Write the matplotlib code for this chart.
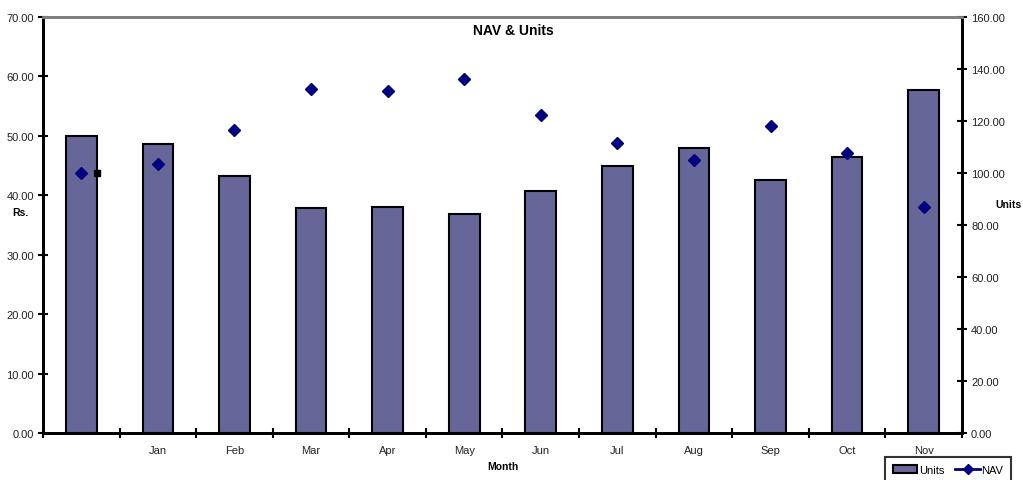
import matplotlib
matplotlib.use("Agg")
import matplotlib.pyplot as plt
import numpy as np
from matplotlib.ticker import FormatStrFormatter, FixedLocator
from matplotlib.lines import Line2D
from matplotlib.patches import Patch

plt.rcParams['font.family'] = ['Liberation Sans', 'DejaVu Sans']

months = ["", "Jan", "Feb", "Mar", "Apr", "May", "Jun", "Jul", "Aug", "Sep", "Oct", "Nov"]
units = [49.9, 48.6, 43.2, 37.8, 38.1, 36.8, 40.8, 44.9, 47.9, 42.5, 46.4, 57.7]
nav = [100.0, 103.3, 116.4, 132.2, 131.5, 136.1, 122.2, 111.4, 104.9, 118.0, 107.6, 87.1]

bar_color = "#666699"
nav_color = "#000080"
txt_color = "#222222"

fig = plt.figure(figsize=(10.23, 4.81), dpi=100)
ax = fig.add_axes([43/1023, 1-434/481, (962-43)/1023, (434-18)/481])
ax2 = ax.twinx()

x = np.arange(len(months))
bw = 0.4
ax.bar(x, units, width=bw, color=bar_color, edgecolor="black", linewidth=1.5, zorder=2)
ax2.plot(x, nav, linestyle="none", marker="D", markersize=6, color=nav_color, zorder=3)
ax2.plot([x[0] + bw/2], [nav[0]], linestyle="none", marker="s", markersize=4, color="black", zorder=3)

ax.set_xlim(-0.5, len(months) - 0.5)
ax.set_ylim(0, 70)
ax2.set_ylim(0, 160)
ax.set_yticks(np.arange(0, 71, 10))
ax2.set_yticks(np.arange(0, 161, 20))
ax.yaxis.set_major_formatter(FormatStrFormatter("%.2f"))
ax2.yaxis.set_major_formatter(FormatStrFormatter("%.2f"))

ax.xaxis.set_major_locator(FixedLocator(np.arange(-0.5, len(months), 1.0)))
ax.xaxis.set_major_formatter(plt.NullFormatter())
ax.xaxis.set_minor_locator(FixedLocator(x))
ax.set_xticklabels(months, minor=True)
ax.tick_params(axis="x", which="minor", length=0, pad=9, labelsize=8, labelcolor=txt_color)
ax.tick_params(axis="x", which="major", direction="inout", length=7, width=1.5)
ax.tick_params(axis="y", direction="inout", length=7, width=1.5, labelsize=8, pad=3, labelcolor=txt_color)
ax2.tick_params(axis="y", direction="inout", length=7, width=1.5, labelsize=8, pad=3, labelcolor=txt_color)

for a in (ax, ax2):
    a.spines["top"].set_color("#808080")
    a.spines["top"].set_linewidth(2)
    for s in ("left", "right", "bottom"):
        a.spines[s].set_linewidth(2)
        a.spines[s].set_color("black")

fig.text(513/1023, 1-31/481, "NAV & Units", ha="center", va="center", fontsize=10, fontweight="bold")
fig.text(20/1023, 1-213/481, "Rs.", ha="center", va="center", fontsize=7.5, fontweight="bold")
fig.text(1008/1023, 1-205/481, "Units", ha="center", va="center", fontsize=7.5, fontweight="bold")
fig.text(503/1023, 1-467/481, "Month", ha="center", va="center", fontsize=7.5, fontweight="bold")

handles = [Patch(facecolor=bar_color, edgecolor="black", linewidth=1.5, label="Units"),
           Line2D([0], [0], color=nav_color, lw=2, marker="D", markersize=5, label="NAV")]
leg = fig.legend(handles=handles, loc="upper left", bbox_to_anchor=(885/1023, 1-458/481),
                 ncol=2, fontsize=8, frameon=True, fancybox=False, borderaxespad=0,
                 handlelength=2.2, handletextpad=0.15, columnspacing=1.0, borderpad=0.7)
leg.get_frame().set_edgecolor("black")
leg.get_frame().set_linewidth(1.5)

fig.savefig("out.png", dpi=100)
